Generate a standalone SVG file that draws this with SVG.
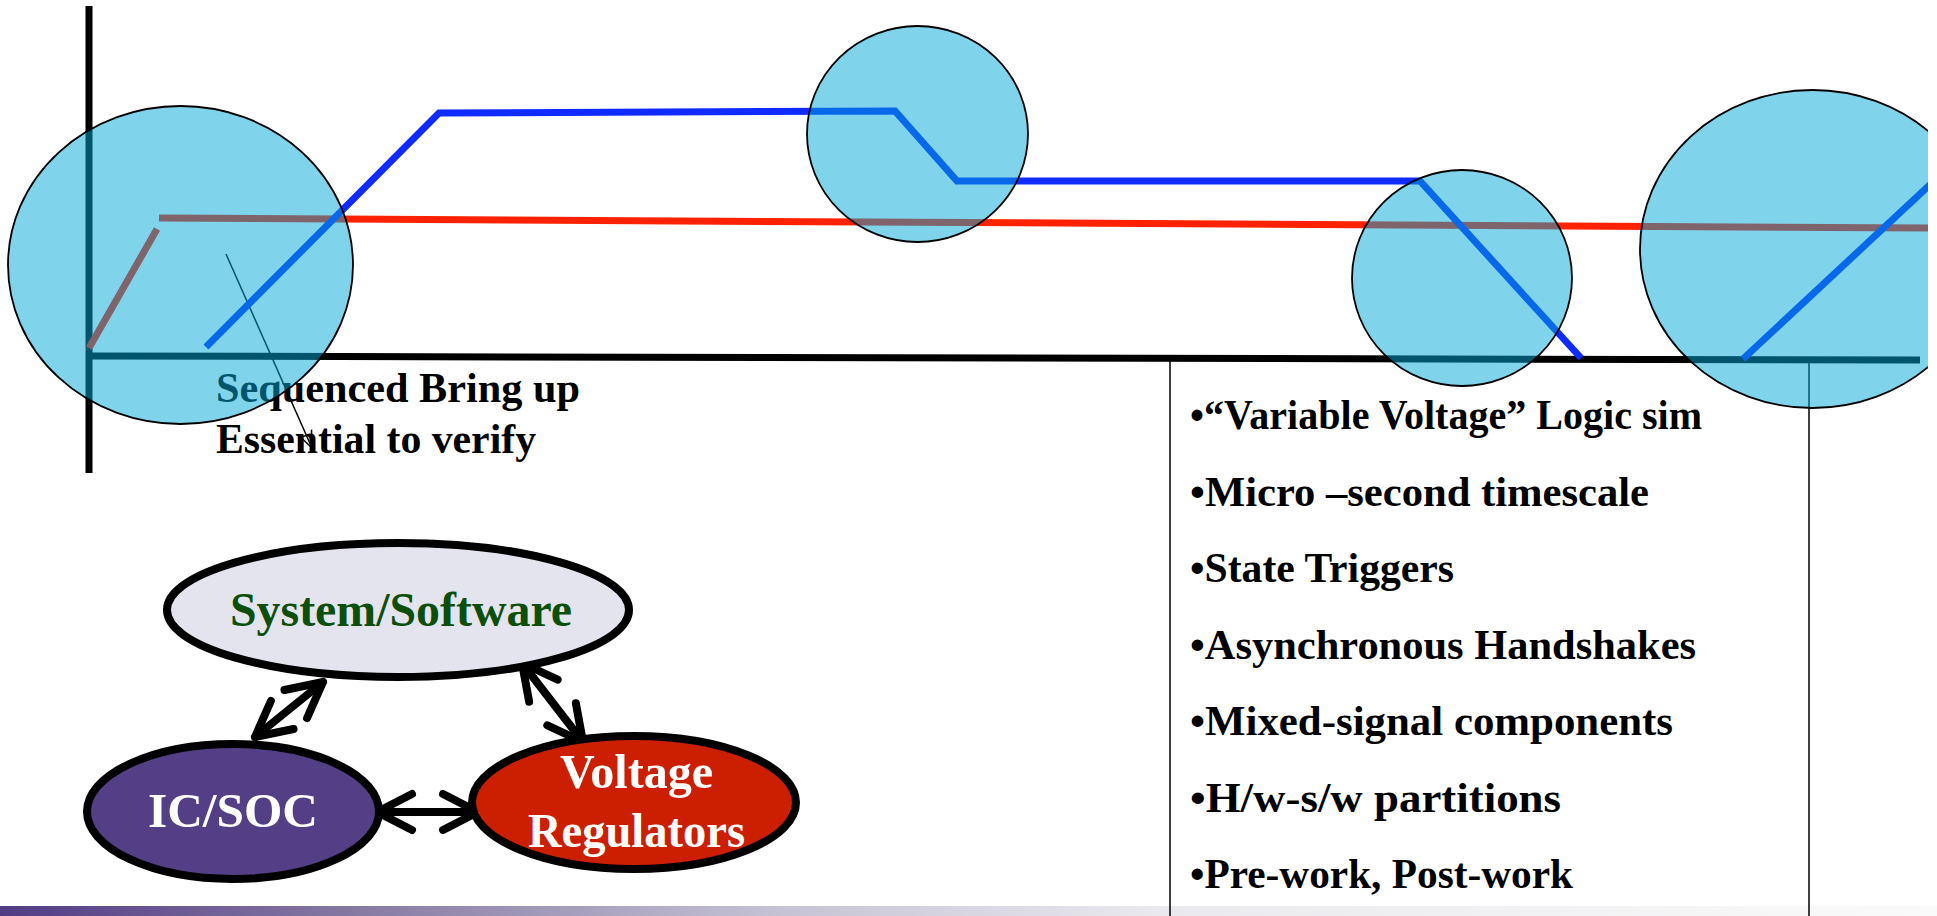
<svg xmlns="http://www.w3.org/2000/svg" width="1937" height="916" viewBox="0 0 1937 916">
  <defs>
    <linearGradient id="footerFade" x1="0" y1="0" x2="1" y2="0">
      <stop offset="0" stop-color="#503C84"/>
      <stop offset="0.2" stop-color="#8A7FA6"/>
      <stop offset="0.4" stop-color="#C5C2D4"/>
      <stop offset="0.6" stop-color="#EAEAEE"/>
      <stop offset="1" stop-color="#FAFAFA"/>
    </linearGradient>
    <clipPath id="slideEdge">
      <rect x="0" y="0" width="1928" height="916"/>
    </clipPath>
    <marker id="chevron" markerUnits="userSpaceOnUse" viewBox="-50 -30 60 60" refX="0" refY="0" markerWidth="60" markerHeight="60" orient="auto-start-reverse">
      <path d="M -35,-18 L 0,0 L -35,18" fill="none" stroke="#000" stroke-width="8" stroke-linecap="round" stroke-linejoin="round"/>
    </marker>
    <marker id="thinHead" markerUnits="userSpaceOnUse" viewBox="-22 -12 26 24" refX="0" refY="0" markerWidth="26" markerHeight="24" orient="auto">
      <path d="M -17,-7 L 0,0 L -17,7" fill="none" stroke="#000" stroke-width="1.5"/>
    </marker>
  </defs>
  <style>
    .axis { stroke: #000; stroke-width: 7; fill: none; }
    .rail { stroke-width: 7; fill: none; stroke-linejoin: miter; }
    .blue { stroke: #0F2BFF; }
    .red { stroke: #FF2200; }
    .spot { fill: #00A8D6; fill-opacity: 0.5; stroke: #000; stroke-width: 1.8; }
    .rule { stroke: #000; stroke-width: 1.5; fill: none; }
    .serif { font-family: "Liberation Serif", "Times New Roman", serif; font-weight: bold; }
    .note { font-size: 42px; fill: #000; }
    .item { font-size: 42px; fill: #000; }
    .node { stroke: #000; stroke-width: 8; }
    .label { font-size: 48px; text-anchor: middle; }
    .link { stroke: #000; stroke-width: 8; fill: none; stroke-linecap: round; marker-start: url(#chevron); marker-end: url(#chevron); }
  </style>

  <!-- footer band -->
  <rect x="0" y="906" width="1937" height="10" fill="url(#footerFade)"/>

  <!-- waveform chart -->
  <g id="chart" clip-path="url(#slideEdge)">
    <text class="serif note" x="216" y="402" textLength="364" lengthAdjust="spacingAndGlyphs">Sequenced Bring up</text>
    <text class="serif note" x="216" y="453" textLength="320" lengthAdjust="spacingAndGlyphs">Essential to verify</text>

    <line class="axis" x1="89" y1="6" x2="89" y2="473"/>
    <line class="axis" x1="86" y1="356" x2="1920" y2="360"/>

    <line class="rule" x1="226" y1="254" x2="312" y2="448" marker-end="url(#thinHead)"/>

    <!-- table frame -->
    <line class="rule" x1="1170" y1="360" x2="1170" y2="916"/>
    <line class="rule" x1="1809" y1="362" x2="1809" y2="916"/>

    <!-- supply rail (red) -->
    <line class="rail red" x1="89" y1="348" x2="157" y2="229"/>
    <line class="rail red" x1="159" y1="218" x2="1928" y2="228"/>

    <!-- regulated output (blue) -->
    <polyline class="rail blue" points="206,347 439,113 895,111 957,181 1420,181 1581,358"/>
    <line class="rail blue" x1="1743" y1="359" x2="1935" y2="180"/>

    <!-- highlighted transitions -->
    <ellipse class="spot" cx="180.5" cy="265" rx="172.5" ry="159"/>
    <ellipse class="spot" cx="917.5" cy="134" rx="110.5" ry="108"/>
    <ellipse class="spot" cx="1462" cy="278" rx="110" ry="108"/>
    <ellipse class="spot" cx="1812.5" cy="249" rx="172.5" ry="159"/>
  </g>

  <!-- verification checklist -->
  <g id="checklist" class="serif item">
    <text x="1190" y="429" textLength="512" lengthAdjust="spacingAndGlyphs">•“Variable Voltage” Logic sim</text>
    <text x="1190" y="505.5" textLength="459" lengthAdjust="spacingAndGlyphs">•Micro –second timescale</text>
    <text x="1190" y="582" textLength="264" lengthAdjust="spacingAndGlyphs">•State Triggers</text>
    <text x="1190" y="658.5" textLength="506" lengthAdjust="spacingAndGlyphs">•Asynchronous Handshakes</text>
    <text x="1190" y="735" textLength="483" lengthAdjust="spacingAndGlyphs">•Mixed-signal components</text>
    <text x="1190" y="811.5" textLength="371" lengthAdjust="spacingAndGlyphs">•H/w-s/w partitions</text>
    <text x="1190" y="888" textLength="383" lengthAdjust="spacingAndGlyphs">•Pre-work, Post-work</text>
  </g>

  <!-- interaction triangle -->
  <g id="connectors">
    <line class="link" x1="323" y1="682" x2="255" y2="737"/>
    <line class="link" x1="522" y1="663" x2="583" y2="742"/>
    <line class="link" x1="377" y1="812" x2="478" y2="812"/>
  </g>

  <g id="node-system">
    <ellipse class="node" cx="398" cy="610" rx="231" ry="67" fill="#E4E4EE"/>
    <text class="serif label" x="401" y="626" fill="#0B4F0B" textLength="342" lengthAdjust="spacingAndGlyphs">System/Software</text>
  </g>
  <g id="node-ic">
    <ellipse class="node" cx="233" cy="811.5" rx="146" ry="67.5" fill="#533F85"/>
    <text class="serif label" x="233" y="827" fill="#FFFFFF" textLength="170" lengthAdjust="spacingAndGlyphs">IC/SOC</text>
  </g>
  <g id="node-regulators">
    <ellipse class="node" cx="634" cy="802.5" rx="162" ry="66.5" fill="#CC1E00"/>
    <text class="serif label" x="636.5" y="788" fill="#FFFFFF" textLength="153" lengthAdjust="spacingAndGlyphs">Voltage</text>
    <text class="serif label" x="636.5" y="847" fill="#FFFFFF" textLength="217" lengthAdjust="spacingAndGlyphs">Regulators</text>
  </g>
</svg>
